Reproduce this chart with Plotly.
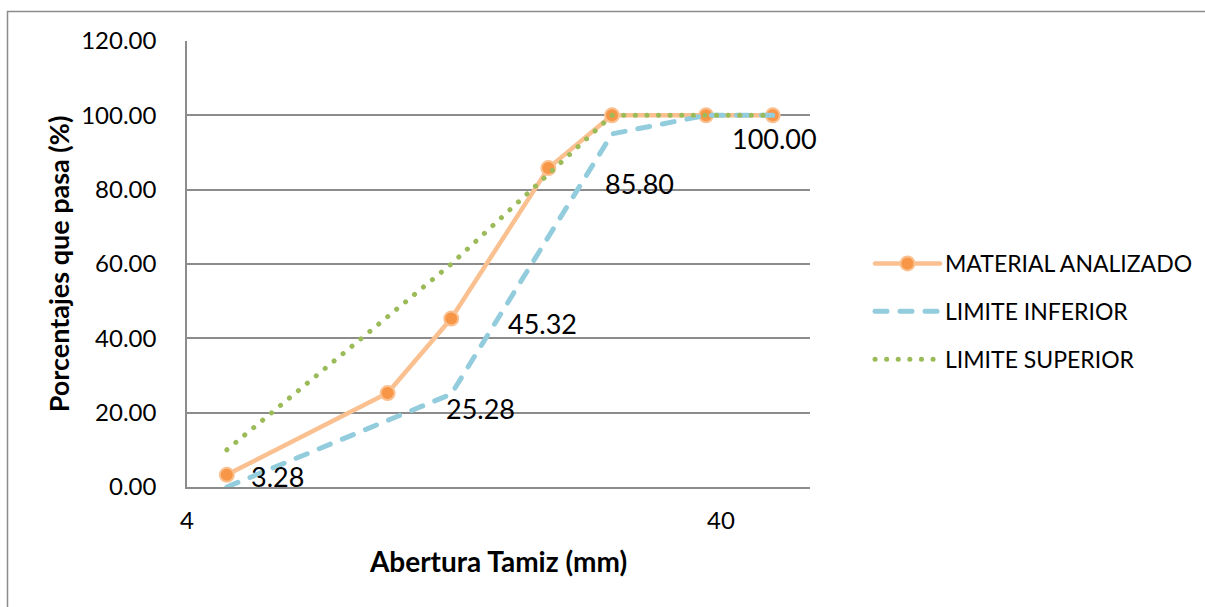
import numpy as np
import plotly.graph_objects as go

# Sieve openings (mm) and percent passing
sieve_mm = [4.75, 9.5, 12.5, 19, 25, 37.5, 50]
material = [3.28, 25.28, 45.32, 85.80, 100.00, 100.00, 100.00]

limit_mm = [4.75, 12.5, 25, 37.5, 50]
lower_limit = [0, 25, 95, 100, 100]
upper_limit = [10, 60, 100, 100, 100]

# Which material points carry a value label, with their pixel offsets
label_idx = [0, 1, 2, 3, 6]
label_shift = [(51, -2), (93, -15), (91, -5), (91, -15), (2, -23)]

y_ticks = [0, 20, 40, 60, 80, 100, 120]
x_ticks = [4, 40]

FONT = "Lato"
GRID = "#8c8c8c"

fig = go.Figure()

fig.add_trace(go.Scatter(
    x=sieve_mm, y=material, name="MATERIAL ANALIZADO", mode="lines+markers",
    legendgroup="a",
    line=dict(color="#FAC090", width=4.5),
    marker=dict(color="#F79646", size=14, line=dict(color="#FAC090", width=2)),
))
fig.add_trace(go.Scatter(
    x=limit_mm, y=lower_limit, name="LIMITE INFERIOR", mode="lines",
    legendgroup="b",
    line=dict(color="#93CDDD", width=5, dash="12px,13px"),
))
fig.add_trace(go.Scatter(
    x=limit_mm, y=upper_limit, name="LIMITE SUPERIOR", mode="lines",
    legendgroup="c",
    line=dict(color="#9BBB59", width=5, dash="0.1px,11.5px"),
))

for i, (dx, dy) in zip(label_idx, label_shift):
    fig.add_annotation(
        x=np.log10(sieve_mm[i]), y=material[i], xref="x", yref="y",
        text=f"{material[i]:.2f}", showarrow=False,
        xanchor="center", yanchor="middle", xshift=dx, yshift=dy,
        font=dict(family=FONT, size=27, color="#000000"),
    )

# plot area in pixels: x 187..810, y 41..487
L, R, T, B = 187, 810, 41, 487
W, H = R - L, B - T
px_x = lambda p: (p - L) / W
px_y = lambda p: (B - p) / H

# outer chart frame (top and left edges visible)
fig.add_shape(type="rect", xref="paper", yref="paper",
              x0=px_x(7.5), x1=px_x(1215), y0=px_y(11.5), y1=px_y(620),
              line=dict(color="#8c8c8c", width=1.5), layer="below")

x_lo = np.log10(4)
x_hi = x_lo + W / 534

fig.update_layout(
    width=1205, height=607,
    margin=dict(l=L, r=1205 - R, t=T, b=607 - B, autoexpand=False),
    paper_bgcolor="white", plot_bgcolor="white",
    font=dict(family=FONT, color="#000000"),
    showlegend=True,
    legend=dict(
        x=px_x(870), y=px_y(242), xanchor="left", yanchor="top",
        font=dict(family=FONT, size=23, color="#000000"),
        bgcolor="rgba(0,0,0,0)", itemwidth=65, tracegroupgap=15,
        traceorder="grouped",
    ),
    xaxis=dict(
        type="log", range=[x_lo, x_hi],
        tickvals=x_ticks, ticktext=[str(v) for v in x_ticks],
        showgrid=False, zeroline=False,
        showline=True, linecolor=GRID, linewidth=1.5,
        ticks="", ticklabelstandoff=11,
        tickfont=dict(family=FONT, size=24, color="#000000"),
        title=dict(text="<b>Abertura Tamiz (mm)</b>", standoff=20,
                   font=dict(family=FONT, size=28, color="#000000")),
    ),
    yaxis=dict(
        range=[0, 120], tickvals=y_ticks, tickformat=".2f",
        showgrid=True, gridcolor=GRID, gridwidth=1.5,
        zeroline=False, showline=True, linecolor=GRID, linewidth=1.5,
        ticks="", ticklabelstandoff=24,
        tickfont=dict(family=FONT, size=24, color="#000000"),
        title=dict(text="<b>Porcentajes que pasa (%)</b>", standoff=4,
                   font=dict(family=FONT, size=27, color="#000000")),
    ),
)

# rounded line ends, as in the original dash and dot styles
round_caps = (
    "document.head.insertAdjacentHTML('beforeend',"
    "'<style>.scatterlayer .js-line, .legendlines path"
    "{stroke-linecap:round;stroke-linejoin:round;}</style>');"
)

fig.write_html("out.html", post_script=round_caps)
